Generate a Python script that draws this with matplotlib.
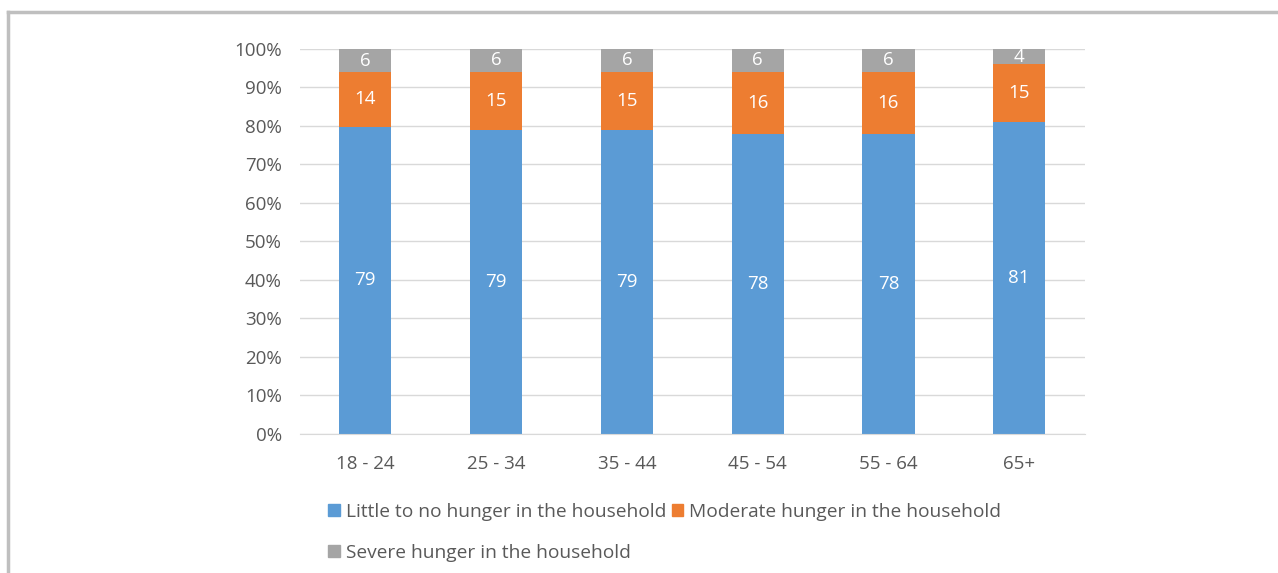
import numpy as np
import matplotlib.pyplot as plt
from matplotlib.lines import Line2D
from matplotlib.patches import Patch
from matplotlib.ticker import PercentFormatter

plt.rcParams['font.family'] = ['Open Sans', 'DejaVu Sans']

# Data (labels shown on the bars, stacked to 100%)
age_groups = ['18 - 24', '25 - 34', '35 - 44', '45 - 54', '55 - 64', '65+']
little = [79, 79, 79, 78, 78, 81]
moderate = [14, 15, 15, 16, 16, 15]
severe = [6, 6, 6, 6, 6, 4]

blue = '#5B9BD5'
orange = '#ED7D31'
grey = '#A5A5A5'
text_col = '#595959'

little = np.array(little, dtype=float)
moderate = np.array(moderate, dtype=float)
severe = np.array(severe, dtype=float)
total = little + moderate + severe
p_little = little / total * 100
p_mod = moderate / total * 100
p_sev = severe / total * 100

fig = plt.figure(figsize=(12.78, 5.73), dpi=100)
ax = fig.add_axes([0.2347, 0.2426, 0.614, 0.672])

x = np.arange(len(age_groups))
w = 0.4
b1 = ax.bar(x, p_little, w, color=blue, zorder=2)
b2 = ax.bar(x, p_mod, w, bottom=p_little, color=orange, zorder=2)
b3 = ax.bar(x, p_sev, w, bottom=p_little + p_mod, color=grey, zorder=2)

for bars, vals in [(b1, little), (b2, moderate), (b3, severe)]:
    ax.bar_label(bars, labels=[f'{v:.0f}' for v in vals], label_type='center',
                 color='white', fontsize=13.5)

ax.set_xlim(-0.5, len(age_groups) - 0.5)
ax.set_ylim(0, 100)
ax.set_yticks(np.arange(0, 101, 10))
ax.yaxis.set_major_formatter(PercentFormatter(decimals=0))
ax.set_xticks(x)
ax.set_xticklabels(age_groups)
ax.tick_params(axis='y', length=0, pad=13, labelsize=13.5, labelcolor=text_col)
ax.tick_params(axis='x', length=0, pad=15, labelsize=13.5, labelcolor=text_col)
ax.grid(axis='y', color='#D9D9D9', linewidth=1, zorder=0)
for s in ['top', 'right', 'left']:
    ax.spines[s].set_visible(False)
ax.spines['bottom'].set_color('#D9D9D9')

handles = [Patch(color=blue), Patch(color=grey), Patch(color=orange)]
labels = ['Little to no hunger in the household', 'Severe hunger in the household',
          'Moderate hunger in the household']
fig.legend(handles, labels, ncol=2, loc='upper left', bbox_to_anchor=(0.257, 0.122),
           frameon=False, fontsize=13.8, labelcolor=text_col, handlelength=0.6,
           handleheight=0.6, handletextpad=0.3, columnspacing=0.3, labelspacing=1.2,
           borderaxespad=0, borderpad=0)

# partial frame around the figure
fig.add_artist(Line2D([8 / 1278, 1], [1 - 12 / 573, 1 - 12 / 573], color='#BFBFBF', lw=2.5))
fig.add_artist(Line2D([8 / 1278, 8 / 1278], [0, 1 - 12 / 573], color='#BFBFBF', lw=2.5))

fig.savefig('out.png', dpi=100)
